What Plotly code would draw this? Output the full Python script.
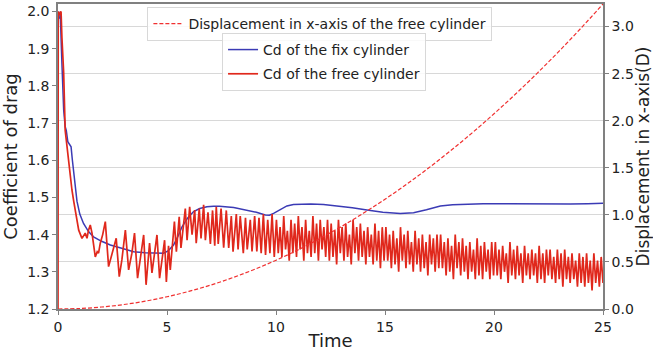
import numpy as np
import plotly.graph_objects as go

# ---------------- data ----------------
# Displacement in x-axis of the free cylinder (right axis, in D)
t_disp = [0, 1, 2, 3, 4, 5, 6, 7, 8, 9, 10, 11, 12, 13, 14, 15, 16, 17, 18, 19, 20, 21, 22, 23, 24, 25]
disp = [0.0, 0.005, 0.021, 0.047, 0.083, 0.13, 0.187, 0.254, 0.332, 0.42, 0.518, 0.627, 0.747,
        0.876, 1.016, 1.166, 1.327, 1.498, 1.68, 1.871, 2.074, 2.286, 2.509, 2.742, 2.986, 3.24]

# Cd of the fix cylinder
t_fix = [0.08, 0.1, 0.18, 0.26, 0.33, 0.38, 0.45, 0.5, 0.6, 0.66, 0.72, 0.87, 1.0, 1.17, 1.4, 1.63,
         2.0, 2.4, 3.0, 3.47, 4.0, 4.54, 4.84, 5.05, 5.3, 5.5, 5.69, 5.95, 6.22, 6.5, 6.83, 7.14,
         7.4, 8.06, 8.67, 9.1, 9.51, 9.7, 9.89, 10.2, 10.5, 10.8, 11.1, 11.6, 12.18, 12.95, 13.5,
         14.17, 14.9, 15.7, 16.31, 16.9, 17.54, 18.1, 18.76, 19.5, 20.5, 21.5, 22.5, 23.5, 24.3, 25]
cd_fix = [1.98, 2.0, 1.86, 1.735, 1.69, 1.68, 1.65, 1.645, 1.636, 1.6, 1.565, 1.49, 1.455, 1.43,
          1.408, 1.394, 1.382, 1.372, 1.362, 1.354, 1.351, 1.35, 1.35, 1.356, 1.372, 1.395, 1.421,
          1.445, 1.462, 1.47, 1.475, 1.476, 1.476, 1.473, 1.466, 1.46, 1.453, 1.452, 1.457, 1.467,
          1.477, 1.481, 1.482, 1.482, 1.481, 1.476, 1.472, 1.466, 1.46, 1.457, 1.459, 1.467, 1.477,
          1.48, 1.482, 1.483, 1.483, 1.482, 1.482, 1.482, 1.483, 1.484]

# Cd of the free cylinder, t < 10 (individual extrema)
t_free_a = [0, 0.01, 0.06, 0.14, 0.18, 0.26, 0.33, 0.41, 0.49, 0.56, 0.64, 0.72, 0.84, 0.95, 1.1,
            1.25, 1.33, 1.4, 1.48, 1.56, 1.71, 1.8, 1.86, 1.94, 2.05, 2.17, 2.32, 2.48, 2.58, 2.67,
            2.81, 2.93, 3.09, 3.24, 3.39, 3.51, 3.65, 3.78, 3.93, 4.04, 4.13, 4.2, 4.31, 4.42,
            4.54, 4.66, 4.77, 4.89, 4.97, 5.07, 5.15, 5.34, 5.43, 5.56, 5.64, 5.84, 5.92, 6.04,
            6.15, 6.27, 6.34, 6.48, 6.56, 6.68, 6.76, 6.88, 6.99, 7.09, 7.19, 7.26, 7.35, 7.48,
            7.6, 7.72, 7.83, 7.95, 8.03, 8.18, 8.26, 8.36, 8.5, 8.6, 8.68, 8.82, 8.9, 9.02, 9.12,
            9.22, 9.32, 9.42, 9.52, 9.62, 9.72, 9.82, 9.92]
cd_free_a = [1.2, 2.0, 1.99, 2.0, 1.93, 1.835, 1.68, 1.636, 1.61, 1.565, 1.52, 1.49, 1.448, 1.412,
             1.39, 1.404, 1.39, 1.412, 1.426, 1.404, 1.34, 1.354, 1.35, 1.377, 1.40, 1.435, 1.314,
             1.35, 1.367, 1.39, 1.287, 1.332, 1.412, 1.305, 1.35, 1.404, 1.283, 1.34, 1.399, 1.265,
             1.32, 1.377, 1.297, 1.35, 1.399, 1.283, 1.332, 1.385, 1.273, 1.37, 1.305, 1.435,
             1.354, 1.448, 1.364, 1.47, 1.385, 1.475, 1.40, 1.466, 1.377, 1.47, 1.39, 1.48, 1.385,
             1.46, 1.375, 1.465, 1.37, 1.475, 1.375, 1.47, 1.365, 1.465, 1.364, 1.45, 1.354,
             1.455, 1.36, 1.45, 1.35, 1.445, 1.36, 1.44, 1.355, 1.45, 1.355, 1.445, 1.35, 1.455,
             1.345, 1.44, 1.35, 1.455, 1.34]

# Cd of the free cylinder, 10 <= t <= 25 : successive peaks and troughs
free_peaks_b = [1.44, 1.42, 1.45, 1.41, 1.44, 1.43, 1.45, 1.42, 1.44, 1.41, 1.45, 1.43, 1.44, 1.42, 1.44,
                1.43, 1.41, 1.44, 1.42, 1.43, 1.40, 1.44, 1.42, 1.43, 1.41, 1.42, 1.40, 1.43, 1.41, 1.42,
                1.42, 1.40, 1.41, 1.39, 1.42, 1.40, 1.41, 1.38, 1.41, 1.39, 1.40, 1.38, 1.40, 1.39, 1.40,
                1.40, 1.38, 1.39, 1.37, 1.40, 1.38, 1.39, 1.37, 1.38, 1.36, 1.39, 1.37, 1.38, 1.36, 1.38,
                1.38, 1.36, 1.37, 1.35, 1.38, 1.36, 1.37, 1.35, 1.37, 1.35, 1.36, 1.35, 1.37, 1.35, 1.36,
                1.36, 1.34, 1.36, 1.35, 1.36, 1.34, 1.35, 1.33, 1.35, 1.34, 1.35, 1.33, 1.35, 1.33, 1.34]
free_troughs_b = [1.35, 1.34, 1.36, 1.33, 1.35, 1.34, 1.36, 1.33, 1.35, 1.34, 1.35, 1.33, 1.36, 1.34, 1.33,
                  1.34, 1.32, 1.35, 1.33, 1.34, 1.32, 1.35, 1.33, 1.34, 1.32, 1.34, 1.32, 1.33, 1.31, 1.33,
                  1.33, 1.31, 1.32, 1.30, 1.33, 1.31, 1.32, 1.30, 1.32, 1.30, 1.31, 1.29, 1.32, 1.30, 1.31,
                  1.31, 1.29, 1.30, 1.28, 1.31, 1.29, 1.30, 1.28, 1.30, 1.28, 1.29, 1.28, 1.30, 1.28, 1.29,
                  1.29, 1.28, 1.30, 1.27, 1.29, 1.28, 1.29, 1.27, 1.29, 1.28, 1.29, 1.27, 1.28, 1.27, 1.29,
                  1.28, 1.27, 1.28, 1.26, 1.28, 1.27, 1.28, 1.26, 1.27, 1.26, 1.27, 1.25, 1.27, 1.26, 1.27]
t_free_b_start, t_free_b_end = 10.02, 25.0   # uniform sampling of the extrema

# ---------------- assemble ----------------
cd_free_b = []
for p, q in zip(free_peaks_b, free_troughs_b):
    cd_free_b += [p, q]
t_free_b = np.linspace(t_free_b_start, t_free_b_end, len(cd_free_b)).tolist()
t_free = t_free_a + t_free_b
cd_free = cd_free_a + cd_free_b

FONT = "DejaVu Sans"
fig = go.Figure()
fig.add_trace(go.Scatter(x=t_fix, y=cd_fix, mode="lines", name="Cd of the fix cylinder",
                         line=dict(color="#3b3bb5", width=1.5), legend="legend2",
                         legendgroup="fix", showlegend=True))
fig.add_trace(go.Scatter(x=t_free, y=cd_free, mode="lines", name="Cd of the free cylinder",
                         line=dict(color="#e0281c", width=1.7), legend="legend2",
                         legendgroup="free", showlegend=True))
fig.add_trace(go.Scatter(x=t_disp, y=disp, mode="lines", yaxis="y2",
                         name="Displacement in x-axis of the free cylinder",
                         line=dict(color="#f03030", width=1.2, dash="4px,2px", shape="spline"),
                         legend="legend", showlegend=True))

axis_common = dict(showline=True, linecolor="#808080", linewidth=1.5, ticks="outside",
                   ticklen=4, tickcolor="#808080", tickfont=dict(size=14, color="#222", family=FONT),
                   zeroline=False, automargin=False)
fig.update_layout(
    width=653, height=351,
    showlegend=True,
    margin=dict(l=58, r=50, t=4, b=42),
    paper_bgcolor="white", plot_bgcolor="white",
    font=dict(family=FONT, color="#222"),
    xaxis=dict(range=[0, 25], tickvals=[0, 5, 10, 15, 20, 25], showgrid=False, mirror=True,
               title=dict(text="Time", font=dict(size=18, family=FONT), standoff=2),
               **axis_common),
    yaxis=dict(range=[1.2, 2.02], tickvals=[1.2, 1.3, 1.4, 1.5, 1.6, 1.7, 1.8, 1.9, 2.0],
               tickformat=".1f", showgrid=False,
               title=dict(text="Coefficient of drag", font=dict(size=18, family=FONT), standoff=6),
               **axis_common),
    yaxis2=dict(range=[0, 3.24], tickvals=[0, 0.5, 1.0, 1.5, 2.0, 2.5, 3.0], tickformat=".1f",
                overlaying="y", side="right", showgrid=True, gridcolor="#d8d8d8", gridwidth=1,
                title=dict(text="Displacement in x-axis(D)", font=dict(size=17, family=FONT), standoff=4),
                **axis_common),
    legend=dict(x=0.164, y=0.99, xanchor="left", yanchor="top", bgcolor="rgba(255,255,255,0.85)",
                bordercolor="#d8d8d8", borderwidth=1, font=dict(size=14, family=FONT, color="#222"),
                visible=True),
    legend2=dict(x=0.301, y=0.905, xanchor="left", yanchor="top", bgcolor="rgba(255,255,255,0.85)",
                 bordercolor="#d8d8d8", borderwidth=1, font=dict(size=14, family=FONT, color="#222"),
                 tracegroupgap=3, visible=True),
)
fig.write_html("out.html")
